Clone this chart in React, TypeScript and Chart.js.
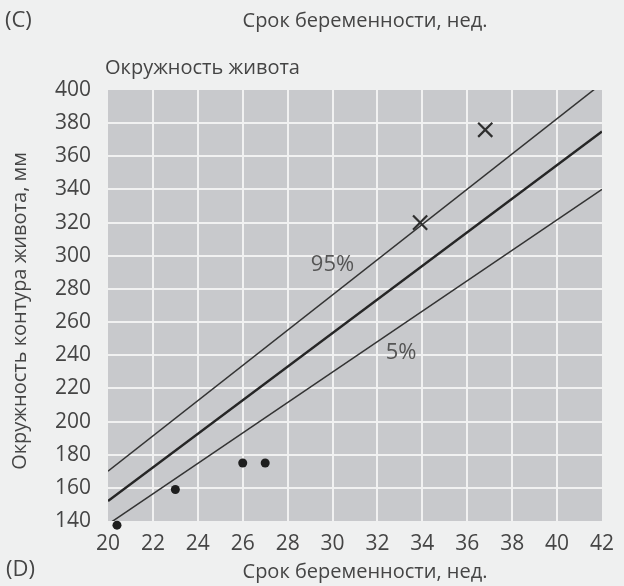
import React, { useEffect, useRef } from "react";
import { Chart, registerables } from "chart.js";

Chart.register(...registerables);

// Data
const lineWeeks = [20, 42];
const meanValues = [152, 375];
const p95Values = [170, 404];
const p5Values = [138, 340];

const dotWeeks = [20.4, 23, 26, 27];
const dotValues = [137.5, 159, 175, 175];

const crossWeeks = [33.9, 36.8];
const crossValues = [320, 376];

const xTicks = [20, 22, 24, 26, 28, 30, 32, 34, 36, 38, 40, 42];
const yTicks = [140, 160, 180, 200, 220, 240, 260, 280, 300, 320, 340, 360, 380, 400];

const lineLabels = ["95%", "5%"];
const lineLabelWeeks = [30.0, 33.05];
const lineLabelValues = [294.5, 241.4];

const FONT = "'Open Sans', 'Noto Sans', sans-serif";
const TEXT = "#454545";
const PAGE_BG = "#eff0f0";
const PLOT_BG = "#c8c9cc";
const GRID = "#f1f1f1";

const pts = (xs: number[], ys: number[]) => xs.map((x, i) => ({ x, y: ys[i] }));

export default function App() {
  const ref = useRef<HTMLCanvasElement | null>(null);

  useEffect(() => {
    document.body.style.margin = "0";
    const canvas = ref.current!;
    const bgPlugin = {
      id: "bgPlugin",
      beforeDraw(chart: any) {
        const { ctx, chartArea } = chart;
        ctx.save();
        ctx.fillStyle = PAGE_BG;
        ctx.fillRect(0, 0, chart.width, chart.height);
        ctx.fillStyle = PLOT_BG;
        ctx.fillRect(chartArea.left, chartArea.top, chartArea.right - chartArea.left, chartArea.bottom - chartArea.top);
        ctx.restore();
      },
      afterDraw(chart: any) {
        const { ctx } = chart;
        const xs = chart.scales.x;
        const ys = chart.scales.y;
        ctx.save();
        ctx.fillStyle = TEXT;
        ctx.textBaseline = "middle";
        ctx.textAlign = "left";
        ctx.font = `22px ${FONT}`;
        ctx.fillText("(C)", 5, 21);
        ctx.fillText("(D)", 6, 570);
        ctx.font = `20px ${FONT}`;
        ctx.fillText("Окружность живота", 105, 68);
        ctx.textAlign = "center";
        ctx.fillText("Срок беременности, нед.", 365, 21);
        ctx.fillText("Срок беременности, нед.", 365, 572);
        // y axis title
        ctx.save();
        ctx.translate(20, 311);
        ctx.rotate(-Math.PI / 2);
        ctx.fillText("Окружность контура живота, мм", 0, 0);
        ctx.restore();
        // line labels
        ctx.font = `22px ${FONT}`;
        ctx.fillStyle = "#555";
        lineLabels.forEach((t, i) => {
          ctx.fillText(t, xs.getPixelForValue(lineLabelWeeks[i]), ys.getPixelForValue(lineLabelValues[i]));
        });
        ctx.restore();
      },
    };

    const chart = new Chart(canvas, {
      type: "scatter",
      data: {
        datasets: [
          {
            type: "line",
            data: pts(lineWeeks, p95Values),
            borderColor: "#333",
            borderWidth: 1.5,
            pointRadius: 0,
          } as any,
          {
            type: "line",
            data: pts(lineWeeks, meanValues),
            borderColor: "#262626",
            borderWidth: 2.5,
            pointRadius: 0,
          } as any,
          {
            type: "line",
            data: pts(lineWeeks, p5Values),
            borderColor: "#333",
            borderWidth: 1.5,
            pointRadius: 0,
          } as any,
          {
            data: pts(dotWeeks, dotValues),
            pointStyle: "circle",
            pointRadius: 4.5,
            backgroundColor: "#1e1e1e",
            borderColor: "#1e1e1e",
            borderWidth: 0,
            clip: false,
          } as any,
          {
            data: pts(crossWeeks, crossValues),
            pointStyle: "crossRot",
            pointRadius: 10,
            borderColor: "#2e2e2e",
            borderWidth: 2.2,
            clip: false,
          } as any,
        ],
      },
      options: {
        animation: false,
        responsive: false,
        maintainAspectRatio: false,
        events: [],
        layout: { padding: { left: 0, right: 12, top: 90, bottom: 0 } },
        plugins: { legend: { display: false }, tooltip: { enabled: false } },
        scales: {
          x: {
            type: "linear",
            min: 20,
            max: 42,
            afterFit(scale: any) {
              scale.height = 65;
            },
            afterBuildTicks(scale: any) {
              scale.ticks = xTicks.map((v) => ({ value: v }));
            },
            border: { display: false },
            grid: {
              drawTicks: false,
              lineWidth: 2,
              color: (c: any) => (c.tick && (c.tick.value === 20 || c.tick.value === 42) ? "rgba(0,0,0,0)" : GRID),
            },
            ticks: {
              padding: 10,
              color: TEXT,
              font: { family: FONT, size: 21 },
              maxRotation: 0,
              autoSkip: false,
            },
          },
          y: {
            type: "linear",
            min: 140,
            max: 400,
            afterFit(scale: any) {
              scale.width = 108;
            },
            afterBuildTicks(scale: any) {
              scale.ticks = yTicks.map((v) => ({ value: v }));
            },
            border: { display: false },
            grid: {
              drawTicks: false,
              lineWidth: 2,
              color: (c: any) => (c.tick && (c.tick.value === 140 || c.tick.value === 400) ? "rgba(0,0,0,0)" : GRID),
            },
            ticks: {
              padding: 17,
              color: TEXT,
              font: { family: FONT, size: 21 },
              autoSkip: false,
            },
          },
        },
      },
      plugins: [bgPlugin],
    } as any);
    return () => chart.destroy();
  }, []);

  return (
    <div style={{ width: 624, height: 586 }}>
      <canvas ref={ref} width={624} height={586} style={{ display: "block", width: 624, height: 586 }} />
    </div>
  );
}
